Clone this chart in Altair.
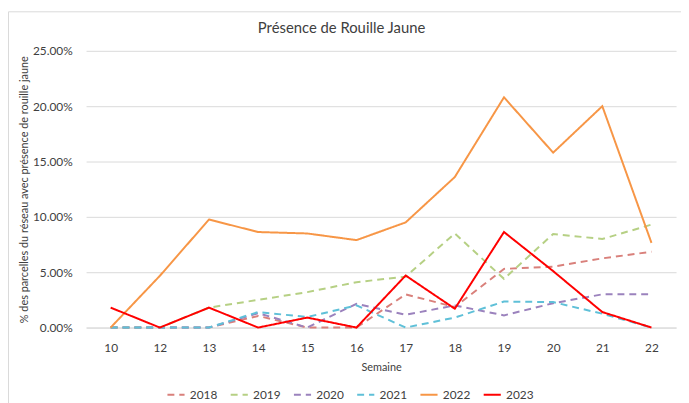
import altair as alt
import pandas as pd

weeks = ["10", "12", "13", "14", "15", "16", "17", "18", "19", "20", "21", "22"]
years = ["2018", "2019", "2020", "2021", "2022", "2023"]

v2018 = [0.0, 0.0, 0.0, 1.05, 0.0, 0.0, 3.0, 1.85, 5.3, 5.5, 6.25, 6.85]
v2019 = [0.0, 0.0, 1.8, 2.5, 3.2, 4.1, 4.6, 8.5, 4.4, 8.45, 8.0, 9.3]
v2020 = [0.0, 0.0, 0.0, 1.3, 0.0, 2.15, 1.15, 2.0, 1.1, 2.2, 3.0, 3.0]
v2021 = [0.0, 0.0, 0.0, 1.4, 0.95, 2.0, 0.0, 0.9, 2.35, 2.3, 1.25, 0.0]
v2022 = [0.0, 4.67, 9.76, 8.63, 8.5, 7.9, 9.5, 13.6, 20.8, 15.8, 20.0, 7.65]
v2023 = [1.8, 0.0, 1.8, 0.0, 0.9, 0.0, 4.7, 1.7, 8.63, 5.1, 1.4, 0.0]

series = [v2018, v2019, v2020, v2021, v2022, v2023]
colors = ["#d9807b", "#b6d084", "#9b82bd", "#5fc0d8", "#f79646", "#ff0000"]
dashes = [[7, 5], [7, 5], [7, 5], [7, 5], [1, 0], [1, 0]]
widths = [2, 2, 2, 2, 2, 3]

rows = []
for y, vals in zip(years, series):
    for w, v in zip(weeks, vals):
        rows.append({"semaine": w, "annee": y, "valeur": v / 100})
df = pd.DataFrame(rows)

FONT = "Lato"
W, H = 597, 280


def leg():
    return alt.Legend(title=None, orient="none", legendX=81, legendY=338,
                      direction="horizontal", columns=6, symbolType="stroke",
                      symbolSize=300, labelFontSize=12, labelColor="#404040",
                      labelFont=FONT, columnPadding=9, labelOffset=4)


lines = alt.Chart(df).mark_line(strokeCap="butt", strokeJoin="miter").encode(
    x=alt.X("semaine:O", sort=weeks, scale=alt.Scale(type="point", padding=0.5),
            axis=alt.Axis(title="Semaine", labelAngle=0, ticks=False, domain=True,
                          domainColor="#d9d9d9", labelPadding=15, titlePadding=8,
                          labelFontSize=12, titleFontSize=11, labelColor="#404040",
                          titleColor="#404040", titleFontWeight="normal", labelFont=FONT,
                          titleFont=FONT)),
    y=alt.Y("valeur:Q", scale=alt.Scale(domain=[0, 0.25], nice=False),
            axis=alt.Axis(title="% des parcelles du réseau avec présence de rouille jaune",
                          format=".2%", values=[0, 0.05, 0.10, 0.15, 0.20, 0.25],
                          ticks=False, domain=False, gridColor="#d9d9d9",
                          labelPadding=14, titlePadding=3, labelFontSize=12,
                          titleFontSize=11, labelColor="#404040", titleColor="#404040",
                          titleFontWeight="normal", labelFont=FONT, titleFont=FONT)),
    color=alt.Color("annee:N", scale=alt.Scale(domain=years, range=colors), legend=leg()),
    strokeDash=alt.StrokeDash("annee:N", scale=alt.Scale(domain=years, range=dashes), legend=leg()),
    strokeWidth=alt.StrokeWidth("annee:N", scale=alt.Scale(domain=years, range=widths), legend=leg()),
)

border = alt.Chart(pd.DataFrame({"a": [0]})).mark_rect(
    fill=None, stroke="#d9d9d9", strokeWidth=1, clip=False
).encode(x=alt.value(-78.5), x2=alt.value(W + 20), y=alt.value(-39.5), y2=alt.value(420))

chart = alt.layer(border, lines).properties(
    width=W, height=H,
    title=alt.TitleParams("Présence de Rouille Jaune", fontSize=15, font=FONT,
                          fontWeight="normal", color="#404040", anchor="middle", dx=-40,
                          offset=0, dy=25),
    autosize=alt.AutoSizeParams(type="none"),
    padding={"left": 79, "top": 41, "right": 5, "bottom": 74},
).configure_view(stroke=None)

chart.save("out.html", embed_options={"renderer": "svg", "actions": False})
